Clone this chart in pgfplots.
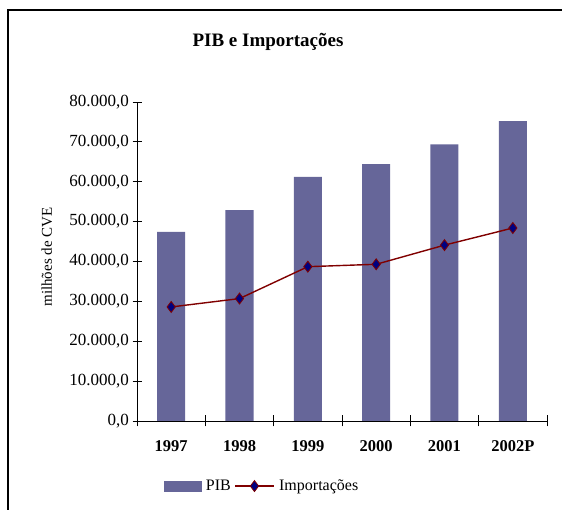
\documentclass[border=0pt]{standalone}
\usepackage{pgfplots}
\pgfplotsset{compat=1.18}
\usepackage{fontspec}
\setmainfont{Liberation Serif}

\definecolor{pibbar}{HTML}{666699}
\definecolor{impline}{HTML}{800000}
\definecolor{impmark}{HTML}{000080}

\pgfplotsset{
    pib legend/.style={legend image code/.code={\fill[pibbar] (0pt,-5.5pt) rectangle (38pt,5.5pt);}},
    imp legend/.style={legend image code/.code={\draw[##1, mark repeat=2, mark phase=2] plot coordinates {(0pt,0pt) (19pt,0pt) (39pt,0pt)};}},
}

\begin{document}
\begin{tikzpicture}
\path[use as bounding box] (0pt,0pt) rectangle (562pt,510pt);
\draw[line width=1.3pt] (8pt,0pt) -- (8pt,500pt) -- (562pt,500pt);
\node[font=\bfseries\fontsize{19}{22}\selectfont] at (268pt,468pt) {PIB e Importações};

\begin{axis}[
    at={(137pt,89pt)}, anchor=south west,
    scale only axis,
    width=410pt, height=319pt,
    axis lines*=left,
    xmin=0.5, xmax=6.5,
    ymin=0, ymax=80000,
    ytick={0,10000,...,80000},
    xtick={1,...,6},
    xticklabels={1997,1998,1999,2000,2001,2002P},
    major x tick style={draw=none},
    minor xtick={0.5,1.5,...,6.5},
    tick align=center,
    major tick length=9pt,
    minor tick length=11pt,
    tick style={black, line width=0.8pt},
    axis line style={black, line width=0.8pt},
    /pgf/number format/assume math mode=true,
    scaled y ticks=false,
    yticklabel style={font=\fontsize{17}{19}\selectfont,
        /pgf/number format/.cd, fixed, fixed zerofill, precision=1, 1000 sep={.}, use comma},
    xticklabel style={font=\bfseries\fontsize{16.5}{18}\selectfont, text height=12pt, text depth=3pt, yshift=-10pt},
    ylabel={milhões de CVE},
    ylabel style={at={(axis description cs:-0.22,0.514)}, anchor=center, font=\fontsize{15}{17}\selectfont},
    legend style={at={(0.305,-0.204)}, anchor=center, draw=none, legend columns=2,
        font=\fontsize{16}{18}\selectfont, column sep=2pt},
    clip=false,
]
\addplot[ybar, bar width=28pt, fill=pibbar, draw=none, area legend, pib legend]
    coordinates {(1,47400) (2,52900) (3,61200) (4,64400) (5,69400) (6,75200)};
\addlegendentry{PIB}
\addplot[color=impline, line width=1.4pt, mark=diamond*, mark size=5.5pt,
    mark options={fill=impmark, draw=impline, line width=0.8pt}, imp legend]
    coordinates {(1,28600) (2,30700) (3,38700) (4,39300) (5,44100) (6,48400)};
\addlegendentry{Importações}
\end{axis}
\end{tikzpicture}
\end{document}
